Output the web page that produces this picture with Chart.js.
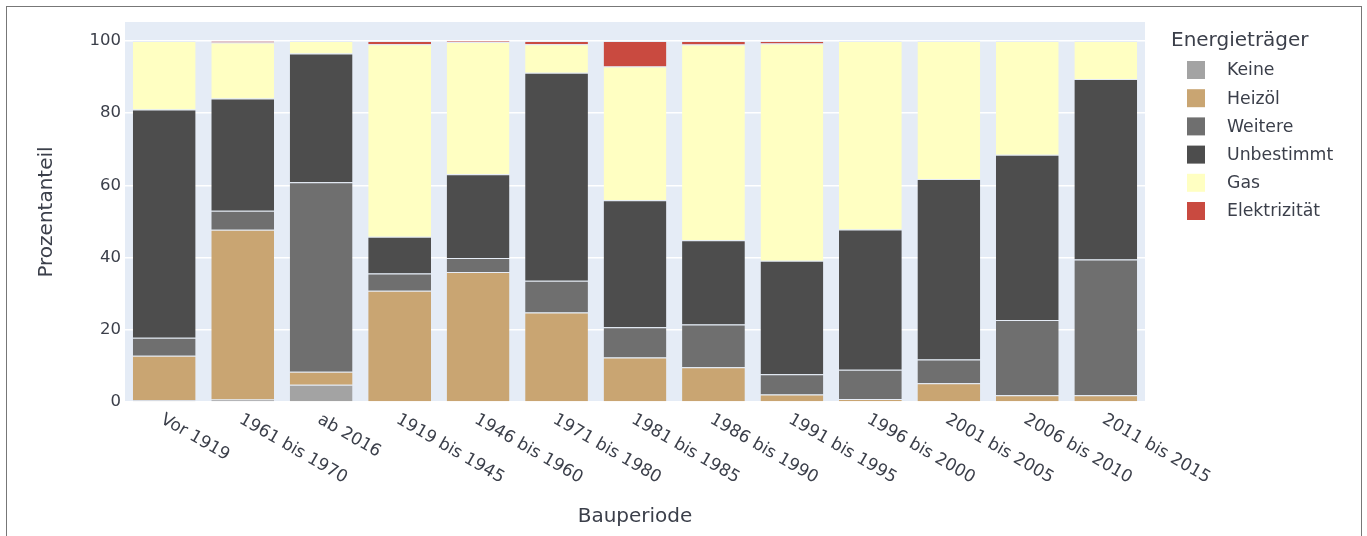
<!DOCTYPE html>
<html>
<head>
<meta charset="utf-8">
<script src="https://cdn.jsdelivr.net/npm/chart.js@4/dist/chart.umd.min.js"></script>
<style>
  html, body { margin: 0; padding: 0; background: #fff; }
  #wrap { position: relative; width: 1367px; height: 536px; }
  #frame { position: absolute; left: 6px; top: 6px; width: 1356px; height: 540px; border: 1px solid #777; box-sizing: border-box; pointer-events: none; }
</style>
</head>
<body>
<div id="wrap">
  <canvas id="energyChart"></canvas>
  <div id="frame"></div>
</div>
<script>
// === Data ===
const periods = ['Vor 1919', '1961 bis 1970', 'ab 2016', '1919 bis 1945', '1946 bis 1960', '1971 bis 1980',
    '1981 bis 1985', '1986 bis 1990', '1991 bis 1995', '1996 bis 2000', '2001 bis 2005', '2006 bis 2010', '2011 bis 2015'];
const keine        = [0.5, 0.7, 4.8, 0, 0, 0, 0, 0, 0, 0, 0, 0, 0];
const heizoel      = [12.3, 47.0, 3.6, 30.8, 36.0, 24.8, 12.3, 9.6, 2.1, 0.8, 5.2, 1.9, 1.9];
const weitere      = [5.0, 5.3, 52.5, 4.8, 3.9, 8.8, 8.4, 11.9, 5.6, 8.1, 6.6, 20.8, 37.6];
const unbestimmt   = [63.2, 31.1, 35.6, 10.2, 23.2, 57.6, 35.2, 23.3, 31.4, 38.9, 50.0, 45.8, 50.0];
const gas          = [19.0, 15.5, 3.5, 53.3, 36.6, 7.9, 37.0, 54.2, 60.2, 52.2, 38.2, 31.5, 10.5];
const elektrizitaet = [0, 0.4, 0, 0.9, 0.3, 0.9, 7.1, 1.0, 0.7, 0, 0, 0, 0];
const yTicks = [0, 20, 40, 60, 80, 100];

const FONT = 'DejaVu Sans, Verdana, sans-serif';
const TEXT = '#3b3f4a';

function ds(label, data, color) {
    return {
        label: label,
        data: data,
        backgroundColor: color,
        borderColor: 'rgba(229, 236, 246, 0.9)',
        borderWidth: { top: 1, bottom: 0, left: 0, right: 0 },
        borderSkipped: false,
        barPercentage: 0.8,
        categoryPercentage: 1.0
    };
}

// plot background
const plotBg = {
    id: 'plotBg',
    beforeDraw(chart) {
        const { ctx, chartArea: a } = chart;
        ctx.save();
        ctx.fillStyle = '#e5ecf6';
        ctx.fillRect(a.left, a.top, a.right - a.left, a.bottom - a.top);
        ctx.restore();
    }
};

// rotated x labels, axis title and legend
const extras = {
    id: 'extras',
    afterDraw(chart) {
        const { ctx, chartArea: a } = chart;
        const xs = chart.scales.x;
        ctx.save();
        ctx.fillStyle = TEXT;
        ctx.font = '17px ' + FONT;
        ctx.textAlign = 'left';
        ctx.textBaseline = 'top';
        periods.forEach((p, i) => {
            const x = xs.getPixelForTick(i);
            ctx.save();
            ctx.translate(x + 2, a.bottom + 9);
            ctx.rotate(Math.PI / 6);
            ctx.fillText(p, 0, 0);
            ctx.restore();
        });
        // x title
        ctx.font = '20px ' + FONT;
        ctx.textAlign = 'center';
        ctx.textBaseline = 'middle';
        ctx.fillText('Bauperiode', (a.left + a.right) / 2, 517);

        // legend
        ctx.textAlign = 'left';
        ctx.font = '20px ' + FONT;
        ctx.fillText('Energieträger', 1171, 41);
        ctx.font = '17.3px ' + FONT;
        chart.data.datasets.forEach((d, i) => {
            const y = 70 + i * 28.2;
            ctx.fillStyle = d.backgroundColor;
            ctx.fillRect(1187, y - 9, 18, 18);
            ctx.fillStyle = TEXT;
            ctx.fillText(d.label, 1227, y + 1);
        });
        ctx.restore();
    }
};

new Chart(document.getElementById('energyChart'), {
    type: 'bar',
    data: {
        labels: periods,
        datasets: [
            ds('Keine', keine, '#a3a3a3'),
            ds('Heizöl', heizoel, '#c9a572'),
            ds('Weitere', weitere, '#6f6f6f'),
            ds('Unbestimmt', unbestimmt, '#4d4d4d'),
            ds('Gas', gas, '#ffffc2'),
            ds('Elektrizität', elektrizitaet, '#c94a40')
        ]
    },
    options: {
        responsive: true,
        maintainAspectRatio: false,
        animation: false,
        devicePixelRatio: 1,
        layout: { padding: { top: 22, right: 222, bottom: 134, left: 0 } },
        plugins: {
            legend: { display: false },
            tooltip: { enabled: false }
        },
        scales: {
            x: {
                stacked: true,
                grid: { display: false },
                border: { display: false },
                ticks: { display: false },
                afterFit: (s) => { s.height = 0; }
            },
            y: {
                stacked: true,
                min: 0,
                max: 105.26,
                afterBuildTicks: (s) => { s.ticks = yTicks.map(v => ({ value: v })); },
                afterFit: (s) => { s.width = 125; },
                grid: { color: '#ffffff', lineWidth: 1.5, drawTicks: false },
                border: { display: false },
                ticks: { padding: 4, color: TEXT, font: { family: FONT, size: 16.5 } },
                title: {
                    display: true,
                    text: 'Prozentanteil',
                    color: TEXT,
                    font: { family: FONT, size: 20 },
                    padding: { top: 35, bottom: 0 }
                }
            }
        }
    },
    plugins: [plotBg, extras]
});
</script>
</body>
</html>
